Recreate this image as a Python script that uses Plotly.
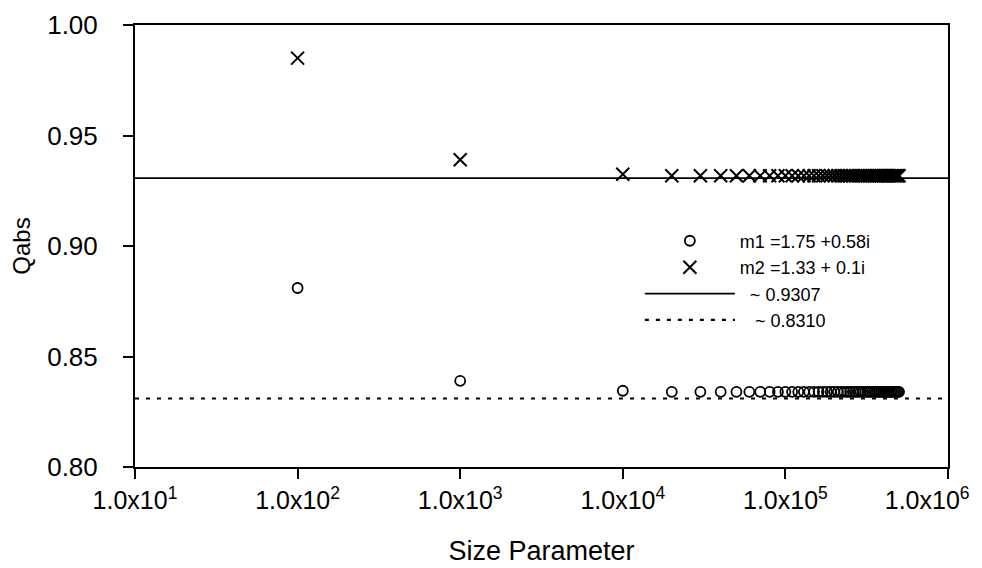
import plotly.graph_objects as go

# Size parameter values
size_param = [100, 1000, 10000, 20000, 30000, 40000, 50000, 60000, 70000, 80000, 90000,
              100000, 110000, 120000, 130000, 140000, 150000, 160000, 170000, 180000, 190000,
              200000, 210000, 220000, 230000, 240000, 250000, 260000, 270000, 280000, 290000,
              300000, 310000, 320000, 330000, 340000, 350000, 360000, 370000, 380000, 390000,
              400000, 410000, 420000, 430000, 440000, 450000, 460000, 470000, 480000, 490000,
              500000]

# Qabs for m1 = 1.75 + 0.58i (circles)
qabs_m1 = [0.881, 0.839, 0.8345] + [0.834] * 49
# Qabs for m2 = 1.33 + 0.1i (crosses)
qabs_m2 = [0.985, 0.939, 0.9325] + [0.9318] * 49

asym_range = [10, 1000000]
asym_m2 = [0.9307, 0.9307]
asym_m1 = [0.8310, 0.8310]

x_tickvals = [10, 100, 1000, 10000, 100000, 1000000]
NB = "\u00a0"
x_ticktext = ["1.0x10<sup>1</sup>", "1.0x10<sup>2</sup>", "1.0x10<sup>3</sup>",
              "1.0x10<sup>4</sup>", "1.0x10<sup>5</sup>", "1.0x10<sup>6</sup>" + NB * 6]
y_tickvals = [0.80, 0.85, 0.90, 0.95, 1.00]
y_ticktext = ["0.80", "0.85", "0.90", "0.95", "1.00"]

font = "Liberation Sans, Arial, sans-serif"

fig = go.Figure()
fig.add_trace(go.Scatter(
    x=size_param, y=qabs_m1, mode="markers", name="m1 =1.75 +0.58i",
    marker=dict(symbol="circle-open", size=10, color="black", line=dict(width=1.8, color="black")),
))
fig.add_trace(go.Scatter(
    x=size_param, y=qabs_m2, mode="markers", name="m2 =1.33 + 0.1i",
    marker=dict(symbol="x-thin-open", size=13, color="black", line=dict(width=2, color="black")),
))
fig.add_trace(go.Scatter(
    x=asym_range, y=asym_m2, mode="lines", name=NB * 2 + "~ 0.9307",
    line=dict(color="black", width=1.8),
))
fig.add_trace(go.Scatter(
    x=asym_range, y=asym_m1, mode="lines", name=NB * 3 + "~ 0.8310",
    line=dict(color="black", width=2.2, dash="4px,7px"),
))

fig.update_layout(
    template="none",
    width=974, height=560,
    margin=dict(l=127, r=34, t=17, b=101),
    paper_bgcolor="white", plot_bgcolor="white",
    font=dict(family=font, size=24, color="black"),
    showlegend=True,
    legend=dict(x=0.621, y=0.553, xanchor="left", yanchor="top",
                bgcolor="rgba(0,0,0,0)", borderwidth=0,
                font=dict(size=18, family=font),
                itemwidth=90, tracegroupgap=0),
    xaxis=dict(
        type="log", range=[1, 6], tickvals=x_tickvals, ticktext=x_ticktext,
        ticks="outside", ticklen=10, tickwidth=2, tickcolor="black",
        showline=True, linewidth=2, linecolor="black", mirror=True,
        showgrid=False, zeroline=False, automargin=False,
        ticklabeloverflow="allow",
        title=dict(text="Size Parameter", font=dict(size=27), standoff=28),
        tickfont=dict(size=25),
    ),
    yaxis=dict(
        range=[0.80, 1.00], tickvals=y_tickvals, ticktext=y_ticktext,
        ticks="outside", ticklen=10, tickwidth=2, tickcolor="black",
        showline=True, linewidth=2, linecolor="black", mirror=True,
        showgrid=False, zeroline=False, automargin=False,
        ticklabelstandoff=20, ticklabeloverflow="allow",
        title=dict(text="Qabs", font=dict(size=24), standoff=21),
        tickfont=dict(size=26),
    ),
)

fig.write_html("out.html")
